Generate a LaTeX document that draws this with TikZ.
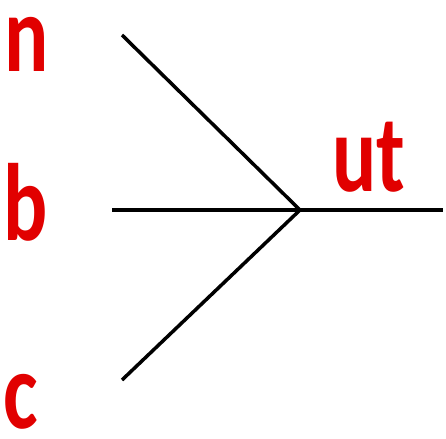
\documentclass[tikz,border=0pt]{standalone}
\usepackage{fontspec}
\setmainfont{Carlito}
\definecolor{lblred}{RGB}{225,0,0}
\begin{document}
\begin{tikzpicture}[x=1pt,y=-1pt,
  lbl/.style={text=lblred,font=\fontsize{110}{110}\selectfont\bfseries,inner sep=0pt,anchor=base,xscale=0.75},
  wire/.style={draw=black,line width=3.5pt}]
\useasboundingbox (0,0) rectangle (446,438);
\node[lbl] (n) at (27,72) {n};
\node[lbl] (b) at (26,240) {b};
\node[lbl] (c) at (21,428) {c};
\node[lbl] (ut) at (369,192) {ut};
\coordinate (j) at (300,210);
\coordinate (in1) at (122,35);
\coordinate (in2) at (112,210);
\coordinate (in3) at (122,380);
\coordinate (out) at (443,210);
\draw[wire] (in1) -- (j);
\draw[wire] (in2) -- (j);
\draw[wire] (in3) -- (j);
\draw[wire] (j) -- (out);
\end{tikzpicture}
\end{document}
